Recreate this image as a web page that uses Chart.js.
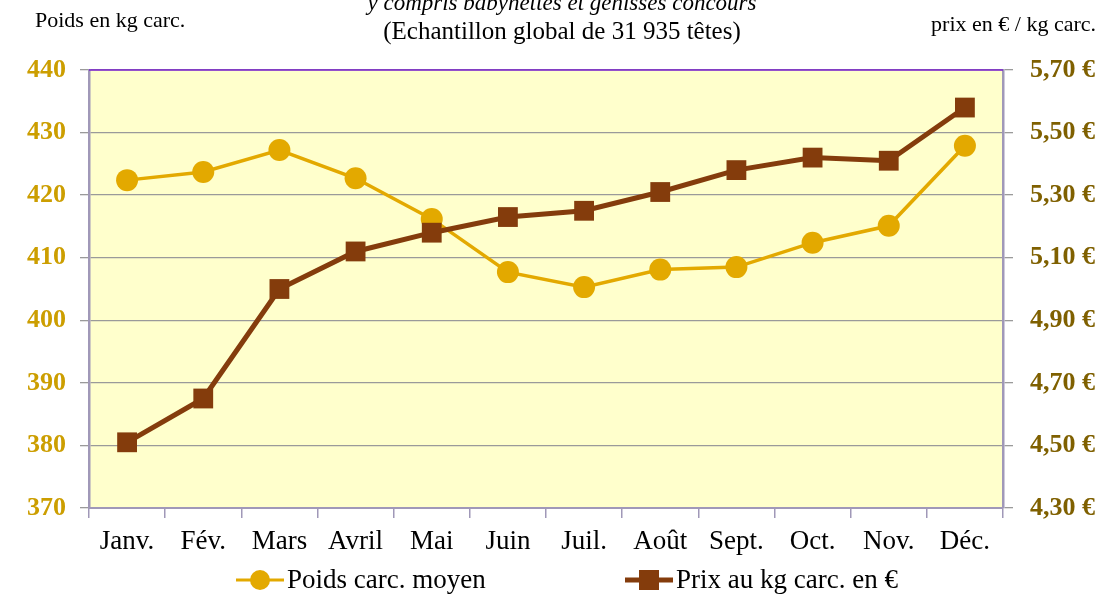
<!DOCTYPE html>
<html>
<head>
<meta charset="utf-8">
<script src="https://cdn.jsdelivr.net/npm/chart.js@4"></script>
<style>
  html, body { margin: 0; padding: 0; background: #fff; }
  #wrap { width: 1116px; height: 596px; position: relative; }
</style>
</head>
<body>
<div id="wrap"><canvas id="chart" width="1116" height="596"></canvas></div>
<script>
const months = ['Janv.', 'Fév.', 'Mars', 'Avril', 'Mai', 'Juin', 'Juil.', 'Août', 'Sept.', 'Oct.', 'Nov.', 'Déc.'];
const poids = [422.4, 423.7, 427.2, 422.7, 416.2, 407.7, 405.3, 408.1, 408.5, 412.4, 415.1, 427.9];
const prix = [4.51, 4.65, 5.00, 5.12, 5.18, 5.23, 5.25, 5.31, 5.38, 5.42, 5.41, 5.58];
const titleLines = ['y compris babynettes et genisses concours', '(Echantillon global de 31 935 têtes)'];
const leftAxisTitle = 'Poids en kg carc.';
const rightAxisTitle = 'prix en € / kg carc.';
const seriesNames = ['Poids carc. moyen', 'Prix au kg carc. en €'];

const GOLD = '#E3A900';
const BROWN = '#843C0C';
const SERIF = '"Liberation Serif", "DejaVu Serif", serif';

// yellow plot area + top purple border
const plotBg = {
    id: 'plotBg',
    beforeDraw(chart) {
        const { ctx, chartArea: a } = chart;
        ctx.save();
        ctx.fillStyle = '#FFFFCC';
        ctx.fillRect(a.left, a.top, a.right - a.left, a.bottom - a.top);
        ctx.restore();
    },
    afterDatasetsDraw(chart) {
        const { ctx, chartArea: a } = chart;
        ctx.save();
        ctx.strokeStyle = '#7A1FD0';
        ctx.lineWidth = 1.5;
        ctx.beginPath();
        ctx.moveTo(a.left, a.top);
        ctx.lineTo(a.right, a.top);
        ctx.stroke();
        ctx.restore();
    }
};

// header texts and the bottom legend
const extras = {
    id: 'extras',
    afterDraw(chart) {
        const { ctx } = chart;
        ctx.save();
        ctx.fillStyle = '#000';
        ctx.textBaseline = 'middle';

        ctx.textAlign = 'center';
        ctx.font = 'italic 23px ' + SERIF;
        ctx.fillText(titleLines[0], 562, 4);
        ctx.font = '25px ' + SERIF;
        ctx.fillText(titleLines[1], 562, 32);

        ctx.font = '22px ' + SERIF;
        ctx.textAlign = 'left';
        ctx.fillText(leftAxisTitle, 35, 21);
        ctx.textAlign = 'right';
        ctx.fillText(rightAxisTitle, 1096, 25);

        // legend
        const ly = 580;
        ctx.lineWidth = 3;
        ctx.strokeStyle = GOLD;
        ctx.beginPath(); ctx.moveTo(236, ly); ctx.lineTo(284, ly); ctx.stroke();
        ctx.fillStyle = GOLD;
        ctx.beginPath(); ctx.arc(260, ly, 10, 0, Math.PI * 2); ctx.fill();

        ctx.lineWidth = 5;
        ctx.strokeStyle = BROWN;
        ctx.beginPath(); ctx.moveTo(625, ly); ctx.lineTo(673, ly); ctx.stroke();
        ctx.fillStyle = BROWN;
        ctx.fillRect(639, ly - 10, 20, 20);

        ctx.fillStyle = '#000';
        ctx.textAlign = 'left';
        ctx.font = '27px ' + SERIF;
        ctx.fillText(seriesNames[0], 287, ly + 1);
        ctx.fillText(seriesNames[1], 676, ly + 1);
        ctx.restore();
    }
};

new Chart(document.getElementById('chart'), {
    type: 'line',
    data: {
        labels: months,
        datasets: [
            {
                label: seriesNames[0],
                data: poids,
                yAxisID: 'y',
                borderColor: GOLD,
                backgroundColor: GOLD,
                borderWidth: 3.5,
                pointStyle: 'circle',
                pointRadius: 11,
                pointHoverRadius: 11,
                pointBorderWidth: 0,
                tension: 0,
                order: 2
            },
            {
                label: seriesNames[1],
                data: prix,
                yAxisID: 'y1',
                borderColor: BROWN,
                backgroundColor: BROWN,
                borderWidth: 5,
                pointStyle: 'rect',
                pointRadius: 14,
                pointHoverRadius: 14,
                pointBorderWidth: 0,
                tension: 0,
                order: 1
            }
        ]
    },
    options: {
        responsive: false,
        animation: false,
        layout: { padding: { top: 70, bottom: 38, left: 0, right: 0 } },
        plugins: {
            legend: { display: false },
            title: { display: false },
            tooltip: { enabled: false }
        },
        scales: {
            x: {
                offset: true,
                grid: {
                    offset: true,
                    drawOnChartArea: false,
                    tickLength: 10,
                    color: '#A098B8',
                    lineWidth: 1.5
                },
                border: { color: '#A098B8', width: 2 },
                ticks: {
                    color: '#000',
                    font: { family: SERIF, size: 27 },
                    padding: 8,
                    maxRotation: 0,
                    autoSkip: false
                },
                afterFit(scale) { scale.height = 50; }
            },
            y: {
                position: 'left',
                min: 370,
                max: 440,
                grid: {
                    color: '#9A9A9A',
                    lineWidth: 1.3,
                    tickLength: 9
                },
                border: { color: '#A098B8', width: 2.5 },
                ticks: {
                    stepSize: 10,
                    color: '#CC9E00',
                    font: { family: SERIF, size: 26, weight: 'bold' },
                    padding: 14
                },
                afterFit(scale) { scale.width = 89; }
            },
            y1: {
                position: 'right',
                min: 4.3,
                max: 5.7,
                grid: {
                    drawOnChartArea: false,
                    color: '#9A9A9A',
                    lineWidth: 1.3,
                    tickLength: 10
                },
                border: { color: '#A098B8', width: 2.5 },
                ticks: {
                    stepSize: 0.2,
                    color: '#7F6000',
                    font: { family: SERIF, size: 26, weight: 'bold' },
                    padding: 17,
                    callback: (v) => v.toFixed(2).replace('.', ',') + ' €'
                },
                afterFit(scale) { scale.width = 113; }
            }
        }
    },
    plugins: [plotBg, extras]
});
</script>
</body>
</html>
